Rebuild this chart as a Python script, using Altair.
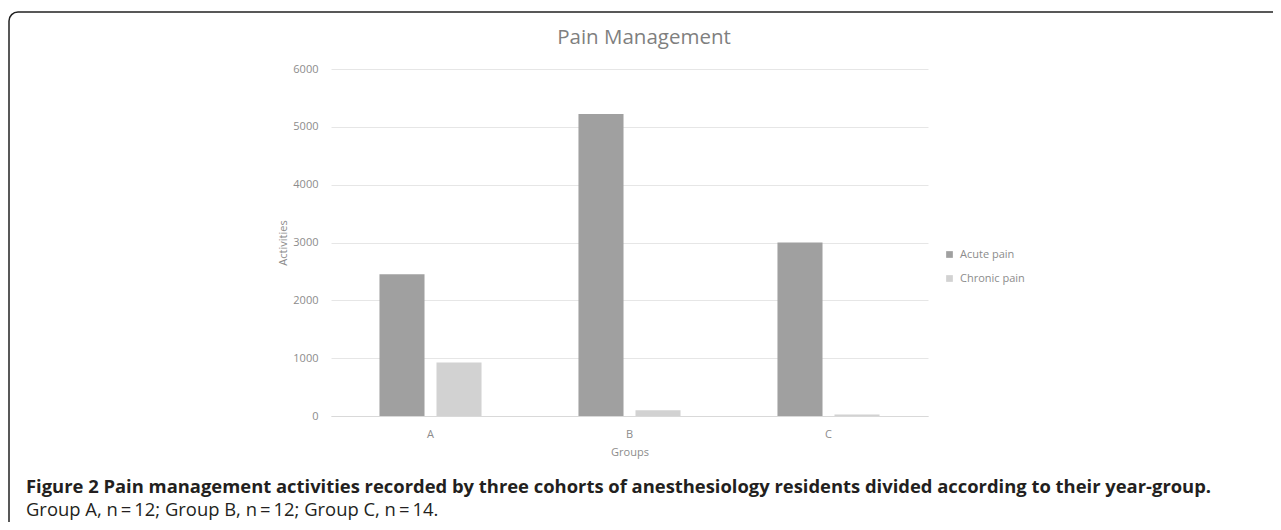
import altair as alt
import pandas as pd

groups = ["A", "B", "C"]
series = ["Acute pain", "Chronic pain"]
acute = [2450, 5220, 3000]
chronic = [925, 100, 25]
y_ticks = [0, 1000, 2000, 3000, 4000, 5000, 6000]
bar_colors = ["#a0a0a0", "#d2d2d2"]

chart_title = "Pain Management"
caption_bold = ("Figure 2 Pain management activities recorded by three cohorts of "
                "anesthesiology residents divided according to their year-group.")
caption_plain = "Group A, n\u2009=\u200912; Group B, n\u2009=\u200912; Group C, n\u2009=\u200914."

rows = []
for g, a, c in zip(groups, acute, chronic):
    rows.append({"Group": g, "Series": series[0], "Activities": a})
    rows.append({"Group": g, "Series": series[1], "Activities": c})
df = pd.DataFrame(rows)
one = pd.DataFrame({"k": [0]})

W, H = 597, 347
PL, PT = 323, 61

bars = alt.Chart(df).mark_bar().encode(
    x=alt.X("Group:N", sort=groups,
            scale=alt.Scale(paddingInner=0, paddingOuter=0),
            axis=alt.Axis(title="Groups", labelAngle=0, ticks=False, tickSize=0,
                          labelPadding=12, titlePadding=7, domain=True,
                          domainColor="#d9d9d9", domainWidth=1)),
    xOffset=alt.XOffset("Series:N", sort=series,
                        scale=alt.Scale(paddingInner=0.21, paddingOuter=0.85)),
    y=alt.Y("Activities:Q", scale=alt.Scale(domain=[0, 6000], nice=False),
            axis=alt.Axis(title="Activities", values=y_ticks, format="d", ticks=False,
                          tickSize=0, domain=False, labelPadding=13, titlePadding=4,
                          grid=True, gridColor="#e6e6e6", gridWidth=1)),
    color=alt.Color("Series:N", sort=series,
                    scale=alt.Scale(domain=series, range=bar_colors),
                    legend=alt.Legend(title=None, orient="none", legendX=613, legendY=180,
                                      symbolType="square", symbolSize=45,
                                      symbolStrokeWidth=0, rowPadding=12,
                                      labelFont="Open Sans", labelFontSize=11,
                                      labelColor="#8c8c8c", labelOffset=5)),
)

border = alt.Chart(one).mark_rect(filled=False, stroke="#222222", strokeWidth=1.5,
                                   cornerRadius=9).encode(
    x=alt.value(-322), x2=alt.value(1000), y=alt.value(-57), y2=alt.value(520)
)

title_txt = alt.Chart(one).mark_text(align="center", baseline="middle", font="Open Sans",
                                      fontSize=20.5, color="#7f7f7f").encode(
    x=alt.value(313), y=alt.value(-31), text=alt.value(chart_title)
)

cap1 = alt.Chart(one).mark_text(align="left", baseline="middle", font="Open Sans",
                                 fontSize=18.4, fontWeight="bold", color="#231f20").encode(
    x=alt.value(-305), y=alt.value(418), text=alt.value(caption_bold)
)
cap2 = alt.Chart(one).mark_text(align="left", baseline="middle", font="Open Sans",
                                 fontSize=18.4, color="#231f20").encode(
    x=alt.value(-305), y=alt.value(441), text=alt.value(caption_plain)
)

chart = alt.layer(border, bars, title_txt, cap1, cap2).properties(
    width=W, height=H,
    autosize=alt.AutoSizeParams(type="none"),
    padding={"left": PL, "top": PT, "right": 345, "bottom": 106},
).configure_view(stroke=None).configure_axis(
    labelFont="Open Sans", labelFontSize=11, labelColor="#8c8c8c",
    titleFont="Open Sans", titleFontSize=11, titleColor="#8c8c8c", titleFontWeight="normal"
)

chart.save("out.html", embed_options={"renderer": "svg", "actions": False})
